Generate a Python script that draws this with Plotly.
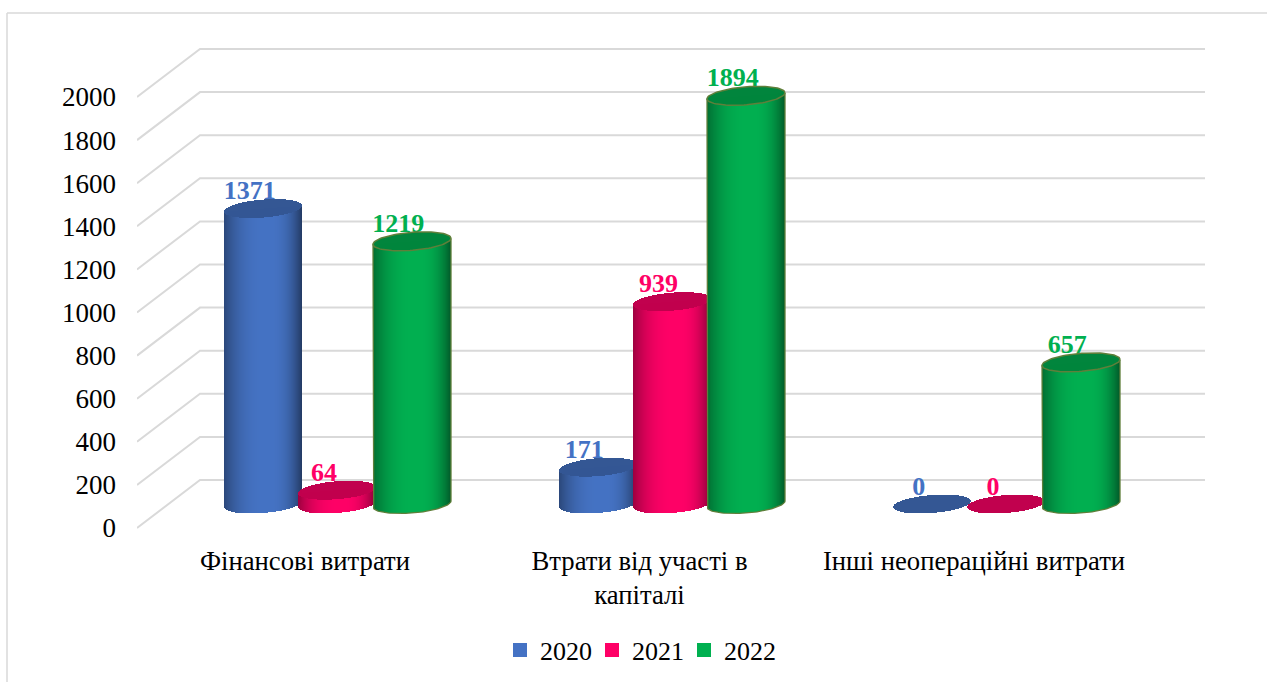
import numpy as np
import plotly.graph_objects as go

categories = ["Фінансові витрати", "Втрати від участі в<br>капіталі", "Інші неопераційні витрати"]
years = ["2020", "2021", "2022"]
values_2020 = [1371, 171, 0]
values_2021 = [64, 939, 0]
values_2022 = [1219, 1894, 657]
series_values = [values_2020, values_2021, values_2022]
colors = [(0x44, 0x72, 0xC4), (0xFF, 0x00, 0x66), (0x00, 0xB0, 0x50)]
text_colors = ["#4472C4", "#FF0066", "#00B050"]
y_ticks = list(range(0, 2001, 200))

# plot geometry (pixels)
W, H = 1267, 682
L, R, T, B = 137, 1205, 40, 542
Y0_PX = 528
PX_PER_UNIT_Y = 431 / 2000
GROUP_PX = 334.5
FIRST_GROUP_PX = 337.3

def xd(px):
    return (px - FIRST_GROUP_PX) / GROUP_PX

def yd(dpx):
    return dpx / PX_PER_UNIT_Y

x_range = [xd(L), xd(R)]
y_range = [(Y0_PX - B) / PX_PER_UNIT_Y, (Y0_PX - T) / PX_PER_UNIT_Y]

BAR_STEP = 74.3
RX = 39
RY = yd(9)
TILT = yd(3)
CY = yd(24)       # floor position of a cylinder axis above the axis zero
DEPTH_X = 63
DEPTH_Y = yd(48)
LABEL_DX = -13.3
LABEL_DY = yd(40)

def shade(u, rgb, k=1.0):
    p = 0.12
    d = (u - p) / ((1 + p) if u < p else (1 - p))
    edge = 0.62 if u < p else 0.5
    f = (1 - (1 - edge) * abs(d) ** 2.6) * k
    return "rgba(%d,%d,%d,0.995)" % tuple(int(c * f) for c in rgb)

fig = go.Figure()

# walls: depth lines + back lines, on base axes (below the cylinders)
for lv in y_ticks:
    fig.add_trace(go.Scatter(
        x=[xd(L), xd(L + DEPTH_X), xd(R)],
        y=[lv, lv + DEPTH_Y, lv + DEPTH_Y],
        mode="lines", line=dict(color="#D9D9D9", width=2),
        hoverinfo="skip", showlegend=False))

# value labels, drawn under the cylinders
for s, vals in enumerate(series_values):
    fig.add_trace(go.Scatter(
        x=[g + ((s - 1) * BAR_STEP + LABEL_DX) / GROUP_PX for g in range(3)],
        y=[v + LABEL_DY for v in vals],
        text=[str(v) for v in vals],
        mode="text", textposition="middle center",
        textfont=dict(family="Liberation Serif", size=26, color=text_colors[s]),
        texttemplate="<b>%{text}</b>",
        hoverinfo="skip", showlegend=False))

strip_px = np.arange(-RX, RX) + 0.5
us = strip_px / RX
sq = np.sqrt(1 - np.clip(us, -1, 1) ** 2)

for s, vals in enumerate(series_values):
    rgb = colors[s]
    bx, bbase, by, bc = [], [], [], []
    tx, tbase, ty, tc = [], [], [], []
    for g, v in enumerate(vals):
        # snap strips to whole pixels
        cx_px = round(FIRST_GROUP_PX + g * GROUP_PX + (s - 1) * BAR_STEP)
        cx = xd(cx_px)
        for p, u, q in zip(strip_px, us, sq):
            low = CY - RY * q + TILT * u
            chord = CY + v + TILT * u
            if v > 0:
                bx.append(cx + p / GROUP_PX)
                bbase.append(low)
                by.append(chord - low)
                bc.append(shade(u, rgb))
            tx.append(cx + p / GROUP_PX)
            tbase.append(chord - RY * q)
            ty.append(2 * RY * q)
            tc.append("rgba(%d,%d,%d,0.995)" % tuple(int(c * 0.76) for c in rgb))
    fig.add_trace(go.Bar(x=bx, y=by, base=bbase, width=1 / GROUP_PX,
                         marker=dict(color=bc, line=dict(width=0)),
                         xaxis="x2", yaxis="y2", hoverinfo="skip", showlegend=False))
    fig.add_trace(go.Bar(x=tx, y=ty, base=tbase, width=1 / GROUP_PX,
                         marker=dict(color=tc, line=dict(width=0)),
                         xaxis="x2", yaxis="y2", hoverinfo="skip", showlegend=False))

# olive outline of the 2022 cylinders
t = np.linspace(0, 2 * np.pi, 90)
tb = np.linspace(np.pi, 2 * np.pi, 50)
for g, v in enumerate(values_2022):
    cx_px = round(FIRST_GROUP_PX + g * GROUP_PX + BAR_STEP)
    ex = xd(cx_px) + RX * np.cos(t) / GROUP_PX
    ey = CY + v + RY * np.sin(t) + TILT * np.cos(t)
    fig.add_trace(go.Scatter(x=ex, y=ey, mode="lines", line=dict(color="#5F7F3A", width=1.5),
                             xaxis="x2", yaxis="y2", hoverinfo="skip", showlegend=False))
    sx = np.r_[xd(cx_px) - RX / GROUP_PX, xd(cx_px) + RX * np.cos(tb) / GROUP_PX, xd(cx_px) + RX / GROUP_PX]
    sy = np.r_[CY + v - TILT, CY + RY * np.sin(tb) + TILT * np.cos(tb), CY + v + TILT]
    fig.add_trace(go.Scatter(x=sx, y=sy, mode="lines", line=dict(color="#5F7F3A", width=1.3),
                             xaxis="x2", yaxis="y2", hoverinfo="skip", showlegend=False))

# legend entries
for s, yr in enumerate(years):
    fig.add_trace(go.Bar(x=[None], y=[None], name=yr,
                         marker=dict(color=text_colors[s], line=dict(color=text_colors[s], width=2)),
                         xaxis="x2", yaxis="y2"))

fig.update_layout(
    width=W, height=H, autosize=False,
    margin=dict(l=L, r=W - R, t=T, b=H - B, pad=0, autoexpand=False),
    paper_bgcolor="white", plot_bgcolor="rgba(0,0,0,0)",
    barmode="overlay", bargap=0,
    font=dict(family="Liberation Serif", size=27, color="#000000"),
    xaxis=dict(range=x_range, showgrid=False, zeroline=False, showline=False, automargin=False,
               tickmode="array",
               tickvals=[g - 32.3 / GROUP_PX for g in range(3)],
               ticktext=categories, ticks="", ticklabelstandoff=0,
               tickfont=dict(family="Liberation Serif", size=26.7, color="#000000"), fixedrange=True),
    yaxis=dict(range=y_range, showgrid=False, zeroline=False, showline=False, automargin=False,
               tickmode="array", tickvals=y_ticks, ticktext=[str(v) for v in y_ticks],
               ticks="", ticklabelstandoff=20,
               tickfont=dict(family="Liberation Serif", size=27, color="#000000"), fixedrange=True),
    xaxis2=dict(range=x_range, overlaying="x", visible=False, fixedrange=True),
    yaxis2=dict(range=y_range, overlaying="y", visible=False, fixedrange=True),
    legend=dict(orientation="h", x=(638 - L) / (R - L), xanchor="center",
                y=(B - 650) / (B - T), yanchor="middle",
                entrywidth=47, entrywidthmode="pixels",
                font=dict(family="Liberation Serif", size=26, color="#000000"),
                bgcolor="rgba(0,0,0,0)"),
    shapes=[
        dict(type="line", xref="paper", yref="paper",
             x0=(7 - L) / (R - L), x1=(7 - L) / (R - L),
             y0=(B - 13) / (B - T), y1=(B - H) / (B - T),
             line=dict(color="#D9D9D9", width=1.5)),
        dict(type="line", xref="paper", yref="paper",
             x0=(7 - L) / (R - L), x1=(W - L) / (R - L),
             y0=(B - 13) / (B - T), y1=(B - 13) / (B - T),
             line=dict(color="#D9D9D9", width=1.5)),
    ],
)
fig.write_html("out.html", config=dict(displayModeBar=False),
               post_script="document.body.style.margin='0';document.body.style.overflow='hidden';")
